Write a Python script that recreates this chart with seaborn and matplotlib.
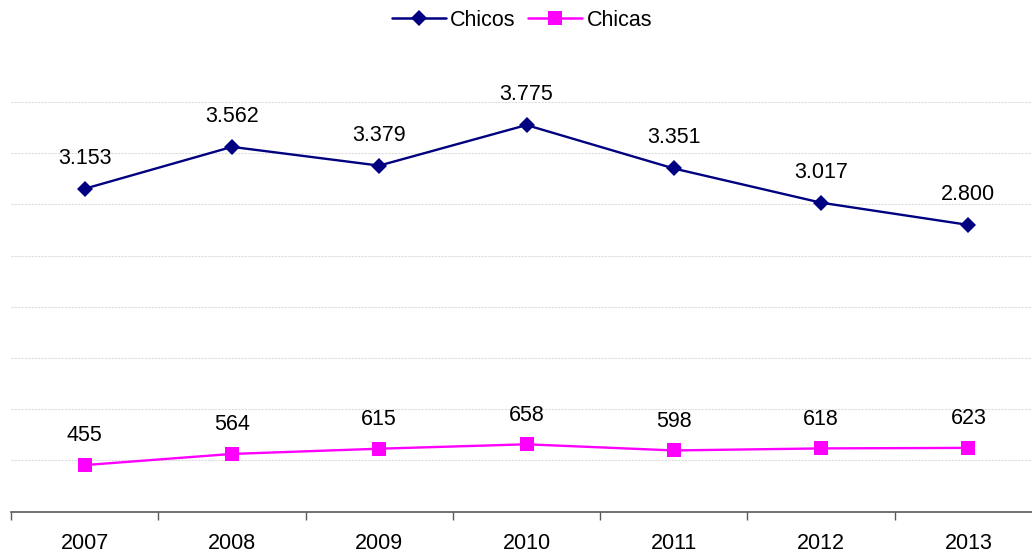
import matplotlib
matplotlib.use("Agg")
import matplotlib.pyplot as plt
import seaborn as sns
import pandas as pd
import numpy as np

years = ["2007", "2008", "2009", "2010", "2011", "2012", "2013"]
chicos = [3153, 3562, 3379, 3775, 3351, 3017, 2800]
chicas = [455, 564, 615, 658, 598, 618, 623]
chicos_labels = ["3.153", "3.562", "3.379", "3.775", "3.351", "3.017", "2.800"]
chicas_labels = ["455", "564", "615", "658", "598", "618", "623"]

sns.set_theme(style="white")
plt.rcParams['font.family'] = ['Liberation Sans', 'DejaVu Sans']
plt.rcParams['text.color'] = 'black'
plt.rcParams['xtick.color'] = 'black'

fig = plt.figure(figsize=(10.32, 5.54), dpi=100)
ax = fig.add_axes([11/1032, 1 - 511.7/554, 1031/1032, (511.7 - 102)/554])

x = np.arange(len(years))
df = pd.DataFrame({
    "x": np.concatenate([x, x]),
    "value": chicos + chicas,
    "serie": ["Chicos"] * len(years) + ["Chicas"] * len(years),
})

palette = {"Chicos": "#000080", "Chicas": "#FF00FF"}
markers = {"Chicos": "D", "Chicas": "s"}
sns.lineplot(data=df, x="x", y="value", hue="serie", style="serie",
             palette=palette, markers=markers, dashes=False,
             linewidth=1.7, markersize=10, markeredgewidth=0,
             ax=ax, legend=False, zorder=3)
for line in ax.get_lines():
    if line.get_marker() == "D":
        line.set_markersize(8.5)
    elif line.get_marker() == "s":
        line.set_markersize(10.5)

fs = 15.5
for xi, v, lab in zip(x, chicos, chicos_labels):
    ax.annotate(lab, (xi, v), xytext=(0, 22), textcoords="offset points",
                ha="center", va="center", fontsize=fs, color="black",
                annotation_clip=False)
for xi, v, lab in zip(x, chicas, chicas_labels):
    ax.annotate(lab, (xi, v), xytext=(0, 21), textcoords="offset points",
                ha="center", va="center", fontsize=fs, color="black",
                annotation_clip=False)

ax.set_xlim(-0.5, 6.5)
ax.set_ylim(0, 4000)
for gy in range(500, 4001, 500):
    ax.axhline(gy, color="#dcdcdc", linewidth=0.8, linestyle=(0, (2, 1)), zorder=1)

ax.set_yticks([])
ax.set_xticks(x)
ax.set_xticklabels(years, fontsize=fs, color="black")
ax.set_xticks(np.arange(-0.5, 7, 1), minor=True)
ax.tick_params(axis="x", which="major", length=0, pad=15.5)
ax.tick_params(axis="x", which="minor", length=6, width=1, color="#595959", direction="out", bottom=True)
ax.set_xlabel("")
ax.set_ylabel("")
for s in ["top", "right", "left"]:
    ax.spines[s].set_visible(False)
ax.spines["bottom"].set_color("#595959")
ax.spines["bottom"].set_linewidth(1.2)

from matplotlib.lines import Line2D
handles = [
    Line2D([], [], color="#000080", marker="D", markersize=8.5, linewidth=1.8, markeredgewidth=0),
    Line2D([], [], color="#FF00FF", marker="s", markersize=10.5, linewidth=1.8, markeredgewidth=0),
]
leg = fig.legend(handles, ["Chicos", "Chicas"], loc="center",
                 bbox_to_anchor=(0.5 + 6/1032, 1 - 20/554),
                 ncol=2, frameon=False, fontsize=15.5, handlelength=2.5, handletextpad=0.2,
                 columnspacing=0.6)
for t in leg.get_texts():
    t.set_color("black")

fig.savefig("out.png", dpi=100)
